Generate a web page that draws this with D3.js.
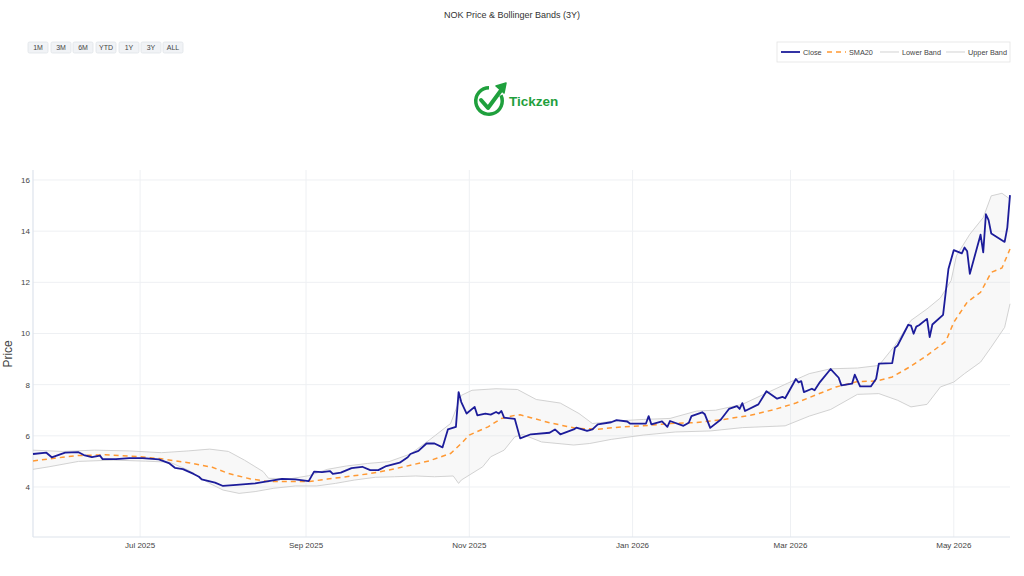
<!DOCTYPE html>
<html>
<head>
<meta charset="utf-8">
<script src="https://cdn.jsdelivr.net/npm/d3@7"></script>
<style>
  body { margin: 0; background: #fff; }
  svg { display: block; font-family: "Liberation Sans", Arial, sans-serif; }
</style>
</head>
<body>
<svg id="chart" width="1024" height="576"></svg>
<script>
// values
let closePrice = [
  ["2025-05-22",5.29],["2025-05-27",5.34],["2025-05-29",5.16],["2025-06-03",5.34],["2025-06-08",5.36],
  ["2025-06-10",5.25],["2025-06-13",5.17],["2025-06-16",5.23],["2025-06-17",5.09],["2025-06-22",5.09],
  ["2025-06-27",5.13],["2025-07-02",5.13],["2025-07-08",5.08],["2025-07-12",4.92],["2025-07-14",4.75],
  ["2025-07-17",4.70],["2025-07-21",4.51],["2025-07-23",4.40],["2025-07-24",4.30],["2025-07-29",4.17],
  ["2025-08-01",4.04],["2025-08-06",4.08],["2025-08-13",4.14],["2025-08-18",4.23],["2025-08-23",4.32],
  ["2025-08-28",4.30],["2025-09-02",4.23],["2025-09-04",4.60],["2025-09-07",4.58],["2025-09-10",4.62],
  ["2025-09-11",4.51],["2025-09-14",4.56],["2025-09-18",4.74],["2025-09-22",4.79],["2025-09-25",4.66],
  ["2025-09-28",4.66],["2025-10-01",4.82],["2025-10-06",4.95],["2025-10-09",5.16],["2025-10-10",5.29],
  ["2025-10-13",5.41],["2025-10-16",5.70],["2025-10-19",5.70],["2025-10-22",5.55],["2025-10-24",6.25],
  ["2025-10-27",6.35],["2025-10-28",7.71],["2025-10-29",7.32],["2025-10-31",6.87],["2025-11-03",7.13],
  ["2025-11-04",6.80],["2025-11-07",6.87],["2025-11-09",6.83],["2025-11-11",6.93],["2025-11-12",6.87],
  ["2025-11-13",6.97],["2025-11-14",6.71],["2025-11-18",6.66],["2025-11-20",5.90],["2025-11-24",6.06],
  ["2025-12-01",6.12],["2025-12-03",6.25],["2025-12-05",6.06],["2025-12-10",6.25],["2025-12-11",6.32],
  ["2025-12-15",6.19],["2025-12-17",6.25],["2025-12-19",6.45],["2025-12-24",6.53],["2025-12-26",6.61],
  ["2025-12-30",6.56],["2025-12-31",6.48],["2026-01-06",6.48],["2026-01-07",6.77],["2026-01-08",6.45],
  ["2026-01-12",6.56],["2026-01-14",6.35],["2026-01-15",6.58],["2026-01-20",6.39],["2026-01-22",6.51],
  ["2026-01-23",6.77],["2026-01-27",6.92],["2026-01-28",6.84],["2026-01-30",6.31],["2026-02-03",6.64],
  ["2026-02-06",7.05],["2026-02-09",7.16],["2026-02-10",7.05],["2026-02-11",7.28],["2026-02-12",6.97],
  ["2026-02-17",7.23],["2026-02-20",7.74],["2026-02-24",7.45],["2026-02-26",7.52],["2026-02-27",7.47],
  ["2026-03-03",8.22],["2026-03-04",8.09],["2026-03-05",8.14],["2026-03-06",7.71],["2026-03-09",7.84],
  ["2026-03-10",7.78],["2026-03-12",8.10],["2026-03-16",8.61],["2026-03-19",8.27],["2026-03-20",7.97],
  ["2026-03-24",8.04],["2026-03-25",8.39],["2026-03-27",7.93],["2026-03-31",7.93],["2026-04-02",8.23],
  ["2026-04-03",8.82],["2026-04-08",8.84],["2026-04-09",9.44],["2026-04-10",9.53],["2026-04-14",10.34],
  ["2026-04-15",10.31],["2026-04-16",9.99],["2026-04-17",10.27],["2026-04-18",10.32],["2026-04-21",10.57],
  ["2026-04-22",9.86],["2026-04-23",10.35],["2026-04-27",10.73],["2026-04-29",12.52],["2026-05-01",13.26],
  ["2026-05-04",13.13],["2026-05-05",13.36],["2026-05-06",13.21],["2026-05-07",12.33],["2026-05-11",13.86],
  ["2026-05-12",13.17],["2026-05-13",14.66],["2026-05-14",14.43],["2026-05-15",13.91],["2026-05-20",13.58],
  ["2026-05-21",14.14],["2026-05-22",15.41]
];

let sma20 = [
  ["2025-05-22",5.02],["2025-06-02",5.16],["2025-06-08",5.23],["2025-06-18",5.26],["2025-07-01",5.18],
  ["2025-07-09",5.10],["2025-07-19",4.95],["2025-07-28",4.77],["2025-08-03",4.53],["2025-08-11",4.32],
  ["2025-08-18",4.21],["2025-08-26",4.21],["2025-09-02",4.21],["2025-09-09",4.31],["2025-09-16",4.40],
  ["2025-09-24",4.51],["2025-10-02",4.66],["2025-10-10",4.85],["2025-10-17",5.02],["2025-10-25",5.31],
  ["2025-10-29",5.70],["2025-11-01",6.03],["2025-11-08",6.35],["2025-11-13",6.68],["2025-11-18",6.80],
  ["2025-11-20",6.82],["2025-11-24",6.71],["2025-12-01",6.51],["2025-12-11",6.29],["2025-12-19",6.26],
  ["2025-12-28",6.35],["2026-01-05",6.39],["2026-01-15",6.48],["2026-01-25",6.52],["2026-02-04",6.64],
  ["2026-02-14",6.80],["2026-02-23",7.03],["2026-03-03",7.28],["2026-03-11",7.62],["2026-03-18",7.91],
  ["2026-03-26",8.12],["2026-04-02",8.14],["2026-04-08",8.30],["2026-04-14",8.66],["2026-04-21",9.14],
  ["2026-04-28",9.69],["2026-05-01",10.44],["2026-05-06",11.22],["2026-05-11",11.61],["2026-05-15",12.39],
  ["2026-05-19",12.56],["2026-05-22",13.30]
];

let upperBand = [
  ["2025-05-22",5.44],["2025-06-02",5.39],["2025-06-14",5.44],["2025-06-27",5.41],["2025-07-09",5.34],
  ["2025-07-19",5.41],["2025-07-27",5.48],["2025-08-03",5.39],["2025-08-09",5.05],["2025-08-16",4.60],
  ["2025-08-18",4.34],["2025-08-26",4.32],["2025-09-02",4.44],["2025-09-09",4.69],["2025-09-16",4.82],
  ["2025-09-24",4.92],["2025-10-02",4.99],["2025-10-10",5.29],["2025-10-17",5.83],["2025-10-25",6.48],
  ["2025-10-29",7.58],["2025-11-02",7.78],["2025-11-11",7.84],["2025-11-19",7.81],["2025-11-26",7.42],
  ["2025-12-05",7.28],["2025-12-12",6.87],["2025-12-17",6.48],["2025-12-26",6.58],["2026-01-05",6.64],
  ["2026-01-15",6.68],["2026-01-25",6.97],["2026-02-01",7.00],["2026-02-11",7.23],["2026-02-20",7.67],
  ["2026-02-28",8.06],["2026-03-08",8.43],["2026-03-16",8.62],["2026-03-26",8.65],["2026-04-03",8.75],
  ["2026-04-09",9.53],["2026-04-15",10.51],["2026-04-21",10.96],["2026-04-26",11.39],["2026-04-30",12.07],
  ["2026-05-02",13.04],["2026-05-07",13.88],["2026-05-12",14.53],["2026-05-15",15.38],["2026-05-19",15.48],
  ["2026-05-22",15.25]
];

let lowerBand = [
  ["2025-05-22",4.69],["2025-05-28",4.79],["2025-06-08",5.00],["2025-06-21",5.05],["2025-07-03",5.01],
  ["2025-07-12",4.97],["2025-07-19",4.66],["2025-07-27",4.14],["2025-08-01",3.88],["2025-08-07",3.75],
  ["2025-08-13",3.82],["2025-08-20",3.95],["2025-08-28",4.04],["2025-09-05",4.04],["2025-09-12",4.14],
  ["2025-09-19",4.27],["2025-09-27",4.38],["2025-10-04",4.40],["2025-10-12",4.43],["2025-10-19",4.40],
  ["2025-10-26",4.43],["2025-10-28",4.14],["2025-10-29",4.27],["2025-11-06",4.79],["2025-11-09",5.18],
  ["2025-11-14",5.44],["2025-11-18",5.96],["2025-11-21",6.05],["2025-11-28",5.76],["2025-12-10",5.64],
  ["2025-12-16",5.70],["2025-12-24",5.86],["2026-01-05",6.03],["2026-01-17",6.15],["2026-01-30",6.19],
  ["2026-02-11",6.32],["2026-02-27",6.39],["2026-03-08",6.77],["2026-03-16",7.03],["2026-03-26",7.62],
  ["2026-04-03",7.65],["2026-04-10",7.39],["2026-04-15",7.13],["2026-04-21",7.23],["2026-04-26",7.91],
  ["2026-05-01",8.10],["2026-05-05",8.43],["2026-05-11",8.88],["2026-05-15",9.47],["2026-05-20",10.24],
  ["2026-05-22",11.16]
];

let xTicks = ["2025-07-01","2025-09-01","2025-11-01","2026-01-01","2026-03-01","2026-05-01"];
let yTicks = [4, 6, 8, 10, 12, 14, 16];
let rangeButtons = ["1M","3M","6M","YTD","1Y","3Y","ALL"];
let legendItems = ["Close","SMA20","Lower Band","Upper Band"];

let parse = d3.timeParse("%Y-%m-%d");
let toPts = arr => arr.map(d => ({date: parse(d[0]), value: d[1]}));
let closePts = toPts(closePrice), smaPts = toPts(sma20),
    upPts = toPts(upperBand), lowPts = toPts(lowerBand);

let svg = d3.select("#chart");
let plot = {left: 33, right: 1010, top: 170, bottom: 537};

let x = d3.scaleTime()
  .domain([parse("2025-05-22"), parse("2026-05-22")])
  .range([plot.left, plot.right]);
let y = d3.scaleLinear()
  .domain([2.045, 16.39])
  .range([plot.bottom, plot.top]);

// grid
svg.append("g").selectAll("line").data(yTicks).enter().append("line")
  .attr("x1", plot.left).attr("x2", plot.right)
  .attr("y1", d => y(d)).attr("y2", d => y(d))
  .style("stroke", "#eef0f3").style("stroke-width", 1);
svg.append("g").selectAll("line").data(xTicks).enter().append("line")
  .attr("x1", d => x(parse(d))).attr("x2", d => x(parse(d)))
  .attr("y1", plot.top).attr("y2", plot.bottom)
  .style("stroke", "#eef0f3").style("stroke-width", 1);

// axis lines
svg.append("line").attr("x1", plot.left).attr("x2", plot.left)
  .attr("y1", plot.top).attr("y2", plot.bottom)
  .style("stroke", "#dde3ec").style("stroke-width", 1.2);
svg.append("line").attr("x1", plot.left).attr("x2", plot.right)
  .attr("y1", plot.bottom).attr("y2", plot.bottom)
  .style("stroke", "#dde3ec").style("stroke-width", 1.2);

// tick labels
svg.append("g").selectAll("text").data(yTicks).enter().append("text")
  .attr("x", plot.left - 3).attr("y", d => y(d) + 3)
  .attr("text-anchor", "end")
  .style("font-size", "8px").style("fill", "#444")
  .text(d => d);
let fmt = d3.timeFormat("%b %Y");
svg.append("g").selectAll("text").data(xTicks).enter().append("text")
  .attr("x", d => x(parse(d))).attr("y", 548)
  .attr("text-anchor", "middle")
  .style("font-size", "8px").style("fill", "#444")
  .text(d => fmt(parse(d)));

svg.append("text")
  .attr("transform", "translate(12," + y(9.2) + ") rotate(-90)")
  .attr("text-anchor", "middle")
  .style("font-size", "12px").style("fill", "#444")
  .text("Price");

// band fill
let line = d3.line().x(d => x(d.date)).y(d => y(d.value));
let bandPoly = upPts.concat(lowPts.slice().reverse());
svg.append("path")
  .attr("d", line(bandPoly) + "Z")
  .style("fill", "rgba(225,225,225,0.22)").style("stroke", "none");
svg.append("path").attr("d", line(lowPts))
  .style("fill", "none").style("stroke", "rgba(205,205,205,0.9)").style("stroke-width", 1);
svg.append("path").attr("d", line(upPts))
  .style("fill", "none").style("stroke", "rgba(205,205,205,0.9)").style("stroke-width", 1);

svg.append("path").attr("d", line(smaPts))
  .style("fill", "none").style("stroke", "#ff9933")
  .style("stroke-width", 1.5).style("stroke-dasharray", "5,4");

svg.append("path").attr("d", line(closePts))
  .style("fill", "none").style("stroke", "#1c1c9a")
  .style("stroke-width", 1.8).style("stroke-linejoin", "round");

// title
svg.append("text").attr("x", 512).attr("y", 18)
  .attr("text-anchor", "middle")
  .style("font-size", "9px").style("fill", "#333")
  .text("NOK Price & Bollinger Bands (3Y)");

// range selector buttons
let btnX = [28, 51, 73, 96, 119, 141, 163];
let btnW = [20, 20, 20, 20, 20, 20, 20];
let btns = svg.append("g").selectAll("g").data(rangeButtons).enter().append("g")
  .attr("transform", (d, i) => "translate(" + btnX[i] + ",42)");
btns.append("rect")
  .attr("width", (d, i) => btnW[i]).attr("height", 11).attr("rx", 1.5)
  .style("fill", "#f1f3f6").style("stroke", "#dfe3e8").style("stroke-width", 0.8);
btns.append("text")
  .attr("x", (d, i) => btnW[i] / 2).attr("y", 8.3)
  .attr("text-anchor", "middle")
  .style("font-size", "7px").style("fill", "#444")
  .text(d => d);

// legend
let leg = svg.append("g");
leg.append("rect").attr("x", 777).attr("y", 42).attr("width", 233).attr("height", 20)
  .style("fill", "#fff").style("stroke", "#e3e3e3").style("stroke-width", 0.8);
let legX = [781, 827, 880, 946];
let legStyles = [
  {stroke: "#1c1c9a", dash: null, w: 1.8},
  {stroke: "#ff9933", dash: "5,4", w: 1.5},
  {stroke: "rgba(205,205,205,0.9)", dash: null, w: 1},
  {stroke: "rgba(205,205,205,0.9)", dash: null, w: 1}
];
legendItems.forEach(function(name, i) {
  leg.append("line").attr("x1", legX[i]).attr("x2", legX[i] + 19)
    .attr("y1", 52).attr("y2", 52)
    .style("stroke", legStyles[i].stroke).style("stroke-width", legStyles[i].w)
    .style("stroke-dasharray", legStyles[i].dash);
  leg.append("text").attr("x", legX[i] + 22).attr("y", 54.8)
    .style("font-size", "7.3px").style("fill", "#444")
    .text(name);
});

// logo
let green = "#1fa03d";
let logo = svg.append("g").attr("transform", "translate(489,101)");
logo.append("path")
  .attr("d", d3.arc().innerRadius(11.5).outerRadius(15)
    .startAngle(Math.PI * 0.36).endAngle(Math.PI * 2)())
  .style("fill", green);
logo.append("path")
  .attr("d", "M-8,-1 L-1,7 L13,-12")
  .style("fill", "none").style("stroke", green).style("stroke-width", 4)
  .style("stroke-linecap", "round").style("stroke-linejoin", "round");
logo.append("path")
  .attr("d", "M17,-18 L7,-15 L15,-8 Z")
  .style("fill", green).style("stroke", green).style("stroke-width", 1.5)
  .style("stroke-linejoin", "round");
svg.append("text").attr("x", 509).attr("y", 106)
  .style("font-size", "13.5px").style("font-weight", "bold").style("fill", green)
  .text("Tickzen");
</script>
</body>
</html>
